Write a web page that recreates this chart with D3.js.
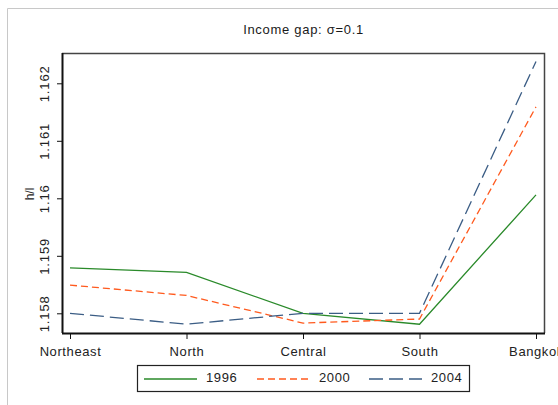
<!DOCTYPE html>
<html>
<head>
  <meta charset="utf-8">
  <title>Income gap</title>
  <script src="https://d3js.org/d3.v7.min.js"></script>
  <style>
    body { margin: 0; background: #fff; }
    svg { display: block; font-family: "Liberation Sans", Arial, sans-serif; }
  </style>
</head>
<body>
<svg class="chart" width="558" height="405"></svg>
<script>

// Data
const regions = ["Northeast", "North", "Central", "South", "Bangkok"];
const v1996 = [1.15879, 1.15871, 1.15800, 1.15781, 1.16006];
const v2000 = [1.15849, 1.15831, 1.15783, 1.15790, 1.16159];
const v2004 = [1.15800, 1.15781, 1.15800, 1.15800, 1.16238];
const yTicks = [1.158, 1.159, 1.16, 1.161, 1.162];
const years = ["1996", "2000", "2004"];

const seriesList = [
  {name: years[0], values: v1996, color: "#2a8a2a", dash: null},
  {name: years[1], values: v2000, color: "#ff5a1e", dash: "7,4"},
  {name: years[2], values: v2004, color: "#3b5d85", dash: "14,6"}
];

const svg = d3.select(".chart");

// outer panel border
svg.append("path")
  .attr("d", "M7.5,405 V8.5 H558")
  .attr("fill", "none")
  .attr("stroke", "#c8c8c8");

// plot area
const plot = {left: 62, right: 545, top: 53, bottom: 333};

const x = d3.scalePoint()
  .domain(regions)
  .range([70, 536]);

const y = d3.scaleLinear()
  .domain([1.158, 1.162])
  .range([313.3, 83.3]);

// frame (top + right)
svg.append("path")
  .attr("d", `M${plot.left},${plot.top + 0.5} H${plot.right - 0.5} V${plot.bottom}`)
  .attr("fill", "none")
  .attr("stroke", "#444")
  .attr("stroke-width", 1.5);

// title
svg.append("text")
  .attr("x", (plot.left + plot.right) / 2)
  .attr("y", 34)
  .attr("text-anchor", "middle")
  .style("font-size", "13px")
  .style("letter-spacing", "0.7px")
  .attr("fill", "#1a1a1a")
  .text("Income gap: σ=0.1");

// y axis
const yAxis = svg.append("g")
  .attr("transform", `translate(${plot.left},0)`)
  .call(d3.axisLeft(y).tickValues(yTicks).tickSize(5).tickFormat(d3.format("")));
yAxis.select(".domain")
  .attr("d", `M0.5,${plot.top} V${plot.bottom}`)
  .attr("stroke", "#111")
  .attr("stroke-width", 2);
yAxis.selectAll(".tick line").attr("stroke", "#111");
yAxis.selectAll(".tick text")
  .attr("x", null).attr("dy", null)
  .attr("transform", "translate(-16,0) rotate(-90)")
  .attr("text-anchor", "middle")
  .attr("dominant-baseline", "middle")
  .style("font-size", "13px")
  .style("letter-spacing", "0.9px")
  .attr("fill", "#222")
  .attr("font-family", null);

svg.append("text")
  .attr("transform", "translate(31,194) rotate(-90)")
  .attr("text-anchor", "middle")
  .attr("dominant-baseline", "middle")
  .style("font-size", "12px")
  .attr("fill", "#222")
  .text("h/l");

// x axis
const xAxis = svg.append("g")
  .attr("transform", `translate(0,${plot.bottom})`)
  .call(d3.axisBottom(x).tickSize(6));
xAxis.select(".domain")
  .attr("d", `M${plot.left},0.5 H${plot.right}`)
  .attr("stroke", "#111")
  .attr("stroke-width", 2);
xAxis.selectAll(".tick line").attr("stroke", "#111");
xAxis.selectAll(".tick text")
  .attr("y", 14)
  .attr("dy", "0.71em")
  .style("font-size", "13px")
  .style("letter-spacing", "0.6px")
  .attr("fill", "#222")
  .attr("font-family", null);
xAxis.attr("font-size", null);
yAxis.attr("font-size", null);

// lines
const line = d3.line()
  .x((d, i) => x(regions[i]))
  .y(d => y(d));

svg.selectAll(".series")
  .data(seriesList)
  .join("path")
    .attr("class", "series")
    .attr("d", d => line(d.values))
    .attr("fill", "none")
    .attr("stroke", d => d.color)
    .attr("stroke-width", 1.3)
    .attr("stroke-dasharray", d => d.dash);

// legend
const legend = svg.append("g");
legend.append("rect")
  .attr("x", 137.5).attr("y", 365.5)
  .attr("width", 332).attr("height", 26)
  .attr("fill", "#fff")
  .attr("stroke", "#222")
  .attr("stroke-width", 1.2);

const legX = [144, 257, 369];
seriesList.forEach((s, i) => {
  legend.append("line")
    .attr("x1", legX[i]).attr("x2", legX[i] + 53)
    .attr("y1", 379).attr("y2", 379)
    .attr("stroke", s.color)
    .attr("stroke-width", 1.5)
    .attr("stroke-dasharray", s.dash);
  legend.append("text")
    .attr("x", legX[i] + 62)
    .attr("y", 379)
    .attr("dominant-baseline", "middle")
    .style("font-size", "13px")
    .style("letter-spacing", "0.6px")
    .attr("fill", "#222")
    .text(s.name);
});

</script>
</body>
</html>
